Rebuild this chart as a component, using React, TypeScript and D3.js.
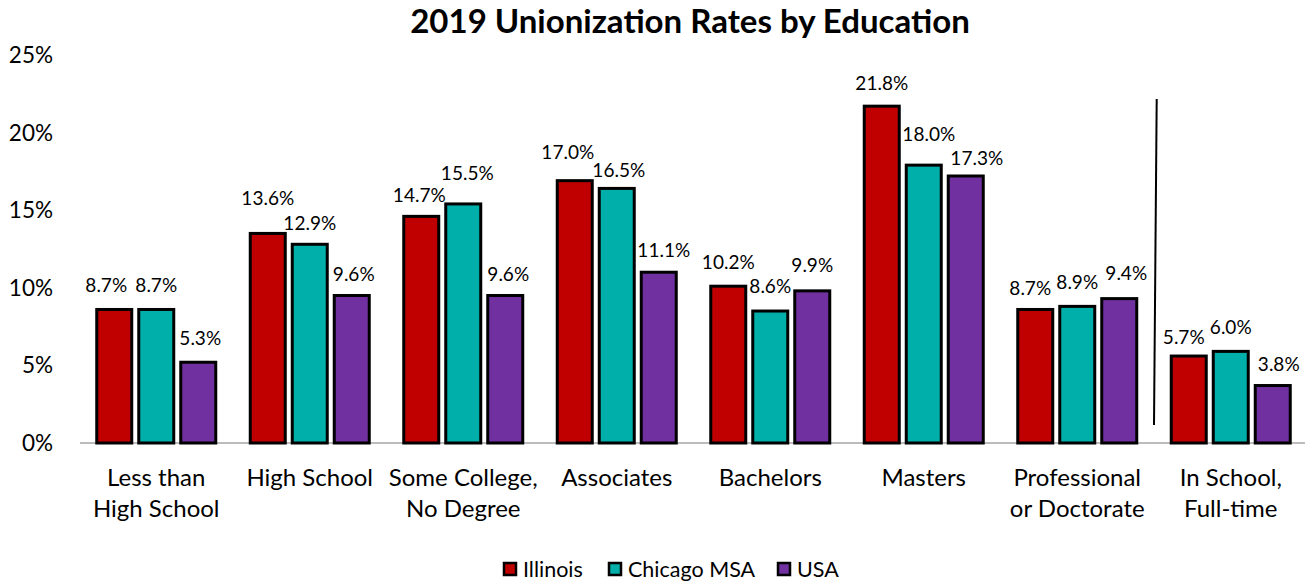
import React from "react";
import * as d3 from "d3";

const categories = [
  ["Less than", "High School"],
  ["High School"],
  ["Some College,", "No Degree"],
  ["Associates"],
  ["Bachelors"],
  ["Masters"],
  ["Professional", "or Doctorate"],
  ["In School,", "Full-time"],
];
const seriesNames = ["Illinois", "Chicago MSA", "USA"];
const illinois = [8.7, 13.6, 14.7, 17.0, 10.2, 21.8, 8.7, 5.7];
const chicago = [8.7, 12.9, 15.5, 16.5, 8.6, 18.0, 8.9, 6.0];
const usa = [5.3, 9.6, 9.6, 11.1, 9.9, 17.3, 9.4, 3.8];
const yTicks = [0, 5, 10, 15, 20, 25];
const colors = ["#C00000", "#00AFA9", "#7030A0"];

// manual label nudges (like Excel's dragged data labels), [dx, dy] per series per category
const labelNudge = [
  [[-8, -2], [0, -13], [-2, 1], [-7, -6], [0, -2], [0, -1], [-5, 1], [-5, 3]],
  [[0, -2], [0, 1], [4, -8], [2, 4], [0, -3], [5, -9], [0, -2], [0, -2]],
  [[2, -2], [2, 1], [3, 1], [5, 0], [0, -3], [11, 4], [7, -3], [6, 1]],
];

const W = 1305;
const H = 583;
const FONT = "Lato, 'Open Sans', sans-serif";

export default function App() {
  const series = [illinois, chicago, usa];
  const keys = categories.map((c) => c.join(" "));

  const x = d3.scaleBand().domain(keys).range([79.5, 1307.5]).padding(0);
  const xInner = d3
    .scaleBand()
    .domain(seriesNames)
    .range([-63, 63])
    .paddingInner(4 / 42)
    .paddingOuter(2 / 42);
  const y = d3.scaleLinear().domain([0, 25]).range([443, 55]);
  const fmt = (v: number) => v.toFixed(1) + "%";

  const legendX = [503, 608, 777];

  return (
    <svg width={W} height={H} style={{ position: "absolute", left: 0, top: 0 }} fontFamily={FONT}>
      <rect width={W} height={H} fill="#fff" />
      <text x={690} y={33} textAnchor="middle" fontSize={33} fontWeight="bold" fill="#000">
        2019 Unionization Rates by Education
      </text>

      {yTicks.map((t) => (
        <text key={t} x={53} y={y(t) + 8} textAnchor="end" fontSize={22.5} fill="#000">
          {t + "%"}
        </text>
      ))}

      <line x1={80} x2={1305} y1={y(0)} y2={y(0)} stroke="#a6a6a6" strokeWidth={1.5} />

      {keys.map((k, i) => {
        const cx = x(k)! + x.bandwidth() / 2;
        return (
          <g key={k}>
            {series.map((s, j) => {
              const bx = cx + xInner(seriesNames[j])!;
              const bw = xInner.bandwidth();
              const top = y(s[i]);
              return (
                <rect
                  key={j}
                  x={bx + 1.5}
                  y={top + 1.5}
                  width={bw - 3}
                  height={y(0) - top - 1.5}
                  fill={colors[j]}
                  stroke="#000"
                  strokeWidth={3}
                />
              );
            })}
            {series.map((s, j) => {
              const bx = cx + xInner(seriesNames[j])! + xInner.bandwidth() / 2;
              const [dx, dy] = labelNudge[j][i];
              return (
                <text
                  key={"l" + j}
                  x={bx + dx}
                  y={y(s[i]) - 14 + dy}
                  textAnchor="middle"
                  fontSize={19}
                  fill="#000"
                >
                  {fmt(s[i])}
                </text>
              );
            })}
            {categories[i].map((line, li) => (
              <text key={"c" + li} x={cx} y={486 + li * 31} textAnchor="middle" fontSize={24} fill="#000">
                {line}
              </text>
            ))}
          </g>
        );
      })}

      <line x1={1156.7} y1={99} x2={1154} y2={425} stroke="#000" strokeWidth={2} />

      {seriesNames.map((n, j) => (
        <g key={n}>
          <rect x={legendX[j] + 1} y={563} width={12} height={12} fill={colors[j]} stroke="#000" strokeWidth={2.5} />
          <text x={legendX[j] + 20} y={577} fontSize={21.5} fill="#000">
            {n}
          </text>
        </g>
      ))}
    </svg>
  );
}
